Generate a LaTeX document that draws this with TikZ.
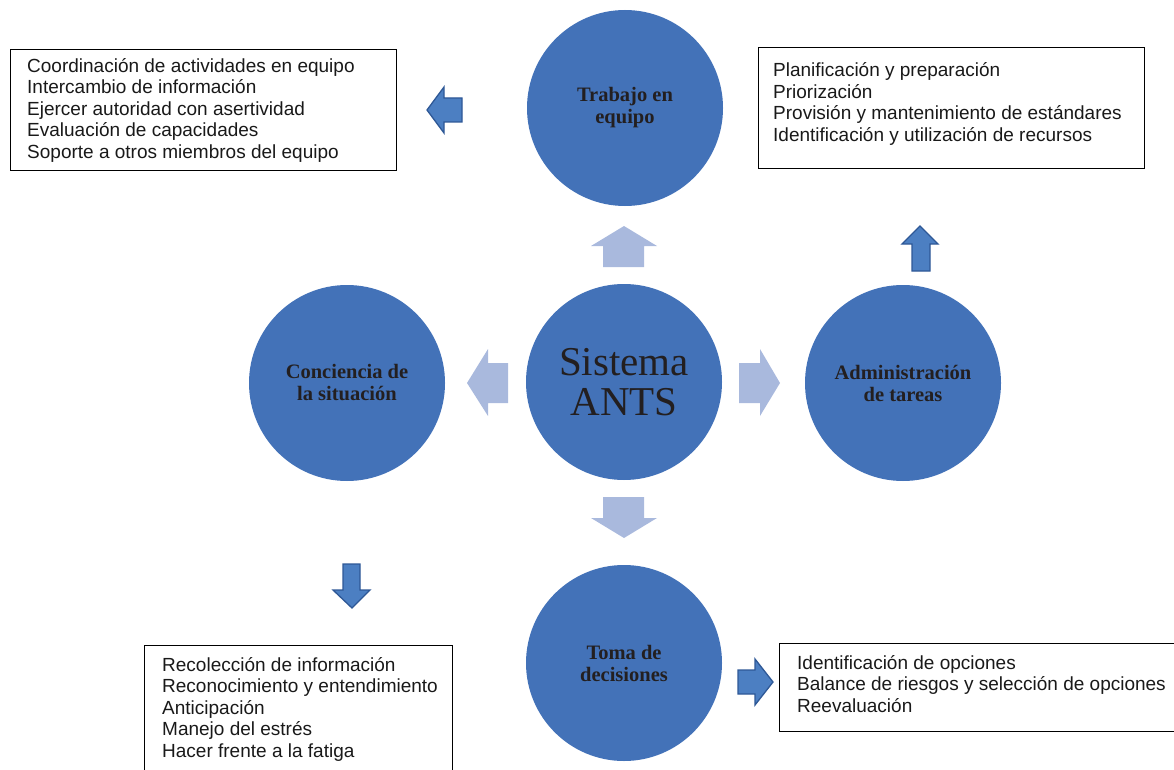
\documentclass[tikz,border=0pt]{standalone}
\usepackage{fontspec}
\setmainfont{Liberation Sans}
\newfontfamily\timesf{Liberation Serif}
\definecolor{circblue}{RGB}{67,114,184}
\definecolor{lightblue}{RGB}{169,185,221}
\definecolor{darkfill}{RGB}{76,127,194}
\definecolor{darkedge}{RGB}{46,88,150}
\definecolor{labelgray}{RGB}{35,31,32}
\begin{document}
\begin{tikzpicture}[x=1pt,y=-1pt,
  circ/.style={circle, fill=circblue, minimum size=196pt, inner sep=0pt, text=labelgray, align=center,
    font=\timesf\bfseries\fontsize{20.5}{22}\selectfont},
  bigcirc/.style={circ, font=\timesf\fontsize{41}{40}\selectfont},
  lightarrow/.style={fill=lightblue},
  darkarrow/.style={fill=darkfill, draw=darkedge, line width=1.3pt, line join=miter},
  box/.style={draw=black, line width=1.2pt, inner sep=0pt, anchor=north west},
  item/.style={anchor=base west, inner sep=0pt, text=black!90, font=\fontsize{19}{21.5}\selectfont}]
\useasboundingbox (0,0) rectangle (1174,770);
\clip (0,0) rectangle (1174,770);

% circles
\node[bigcirc] (ants) at (624,382) {Sistema\\ANTS};
\node[circ] (trabajo) at (625,108) {Trabajo en\\equipo};
\node[circ] (conciencia) at (347,383) {Conciencia de\\la situación};
\node[circ] (admin) at (903,383) {Administración\\de tareas};
\node[circ] (toma) at (624,663) {Toma de\\decisiones};

% light arrows around centre
\fill[lightarrow] (624,226) -- (657,246) -- (644,246) -- (644,267) -- (603,267) -- (603,246) -- (591,246) -- cycle;
\fill[lightarrow] (624,538) -- (657,518) -- (644,518) -- (644,497) -- (603,497) -- (603,518) -- (591,518) -- cycle;
\fill[lightarrow] (467,383) -- (488,349) -- (488,363) -- (508,363) -- (508,403) -- (488,403) -- (488,416) -- cycle;
\fill[lightarrow] (780,383) -- (760,349) -- (760,363) -- (739,363) -- (739,403) -- (760,403) -- (760,416) -- cycle;

% dark small arrows
\draw[darkarrow] (427,110) -- (444,87) -- (444,98) -- (462,98) -- (462,122) -- (444,122) -- (444,133) -- cycle;
\draw[darkarrow] (352,608) -- (370,590) -- (360,590) -- (360,564) -- (343,564) -- (343,590) -- (333,590) -- cycle;
\draw[darkarrow] (920,226) -- (938,244) -- (930,244) -- (930,271) -- (912,271) -- (912,244) -- (902,244) -- cycle;
\draw[darkarrow] (773,682) -- (755,659) -- (755,670) -- (738,670) -- (738,694) -- (755,694) -- (755,705) -- cycle;

% boxes
\node[box, minimum width=386pt, minimum height=121pt] (tlbox) at (10,49) {};
\node[box, minimum width=386pt, minimum height=121pt] (trbox) at (758,47) {};
\node[box, minimum width=308pt, minimum height=140pt] (blbox) at (144,645) {};
\node[box, minimum width=420pt, minimum height=88pt] (brbox) at (779,643) {};

\foreach \t [count=\i] in {Coordinación de actividades en equipo, Intercambio de información, Ejercer autoridad con asertividad, Evaluación de capacidades, Soporte a otros miembros del equipo}
  \node[item] (tl\i) at (27,{72.5+21.5*(\i-1)}) {\t};
\foreach \t [count=\i] in {Planificación y preparación, Priorización, Provisión y mantenimiento de estándares, Identificación y utilización de recursos}
  \node[item] (tr\i) at (773,{77+21.5*(\i-1)}) {\t};
\foreach \t [count=\i] in {Recolección de información, Reconocimiento y entendimiento, Anticipación, Manejo del estrés, Hacer frente a la fatiga}
  \node[item] (bl\i) at (162,{671+21.5*(\i-1)}) {\t};
\foreach \t [count=\i] in {Identificación de opciones, Balance de riesgos y selección de opciones, Reevaluación}
  \node[item] (br\i) at (797,{669+21.5*(\i-1)}) {\t};
\end{tikzpicture}
\end{document}
